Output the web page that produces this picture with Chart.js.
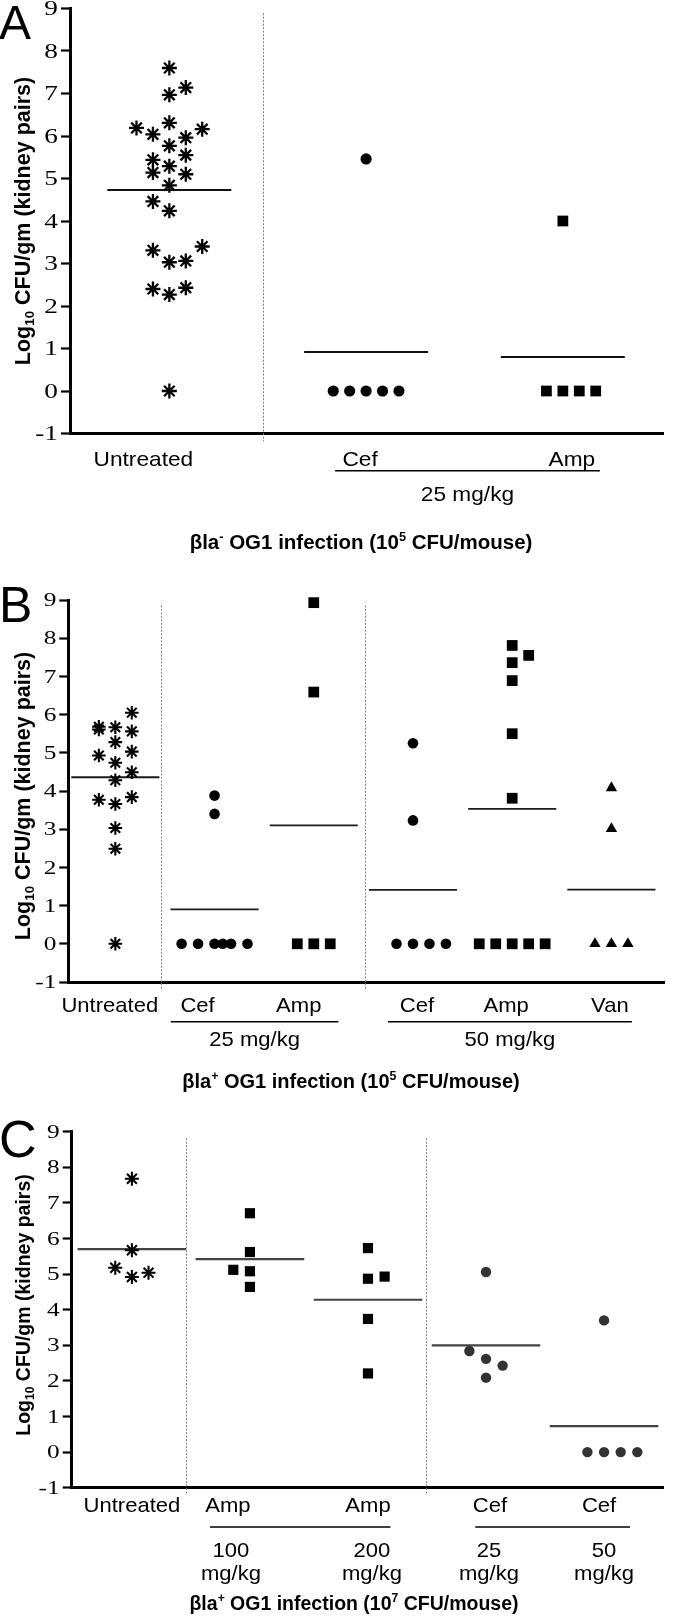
<!DOCTYPE html>
<html><head><meta charset="utf-8">
<script src="https://cdn.jsdelivr.net/npm/chart.js@4.4.0/dist/chart.umd.min.js"></script>
<style>
html,body{margin:0;padding:0;background:#fff;}
body{width:673px;height:1619px;position:relative;overflow:hidden;}
canvas{position:absolute;left:0;}
</style></head><body>
<canvas id="cA"></canvas><canvas id="cB"></canvas><canvas id="cC"></canvas>
<script>
// ================= DATA =================
const yTickValues = [-1, 0, 1, 2, 3, 4, 5, 6, 7, 8, 9];
const yTitle = [{t:'Log'},{t:'10',sub:1},{t:' CFU/gm (kidney pairs)'}];

// ---- Panel A ----
const catsA = ['Untreated', 'Cef', 'Amp'];
const doseA = ['25 mg/kg'];
const untreatedA    = [7.60,7.14,6.97,6.19,6.04,6.31,6.16,5.96,5.77,5.55,5.44,5.29,5.14,5.10,4.84,4.46,4.24,3.40,3.31,3.03,3.06,2.40,2.27,2.43,0];
const untreatedAcol = [0,1,0,-2,-1,0,2,1,0,1,-1,0,-1,1,0,-1,0,2,-1,0,1,-1,0,1,0];
const cefA    = [5.46,0,0,0,0,0];
const cefAcol = [0,-2,-1,0,1,2];
const ampA    = [4.00,0,0,0,0];
const ampAcol = [0,-1,0,1,2];
const meanA = [4.73, 0.92, 0.80];
const titleA = [{t:'βla'},{t:'-',sup:1},{t:' OG1 infection (10'},{t:'5',sup:1},{t:' CFU/mouse)'}];

// ---- Panel B ----
const catsB = ['Untreated', 'Cef', 'Amp', 'Cef', 'Amp', 'Van'];
const doseB = ['25 mg/kg', '50 mg/kg'];
const untreatedB    = [5.68,5.61,5.67,6.05,5.56,5.28,4.93,5.03,4.74,4.49,4.28,3.77,3.66,3.84,3.03,2.49,0];
const untreatedBcol = [-1,-1,0,1,1,0,-1,1,0,1,0,-1,0,1,0,0,0];
const cef25B    = [3.88,3.40,0,0,0,0,0,0];
const cef25Bcol = [0,0,-2,-1,0,0.5,1,2];
const amp25B    = [8.93,6.59,0,0,0];
const amp25Bcol = [0,0,-1,0,1];
const cef50B    = [5.25,3.23,0,0,0,0];
const cef50Bcol = [0,0,-1,0,1,2];
const amp50B    = [7.81,7.55,7.36,6.89,5.50,3.81,0,0,0,0,0];
const amp50Bcol = [0,1,0,0,0,0,-2,-1,0,1,2];
const van50B    = [4.08,3.01,0,0,0];
const van50Bcol = [0,0,-1,0,1];
const meanB = [4.36, 0.90, 3.10, 1.41, 3.53, 1.42];
const titleB = [{t:'βla'},{t:'+',sup:1},{t:' OG1 infection (10'},{t:'5',sup:1},{t:' CFU/mouse)'}];

// ---- Panel C ----
const catsC = ['Untreated', 'Amp', 'Amp', 'Cef', 'Cef'];
const doseC = ['100', '200', '25', '50'];
const doseUnitC = 'mg/kg';
const untreatedC    = [7.68,5.67,5.18,4.92,5.04];
const untreatedCcol = [0,0,-1,0,1];
const amp100C    = [6.71,5.62,5.12,5.08,4.64];
const amp100Ccol = [0,0,-1,0,0];
const amp200C    = [5.73,4.87,4.93,3.74,2.21];
const amp200Ccol = [0,0,1,0,0];
const cef25C    = [5.06,2.84,2.62,2.43,2.09];
const cef25Ccol = [0,-1,0,1,0];
const cef50C    = [3.70,0,0,0,0];
const cef50Ccol = [0,-1,0,1,2];
const meanC = [5.70, 5.42, 4.28, 3.00, 0.73];
const titleC = [{t:'βla'},{t:'+',sup:1},{t:' OG1 infection (10'},{t:'7',sup:1},{t:' CFU/mouse)'}];

// ================= STYLE / LAYOUT =================
const SANS = '"Liberation Sans", Arial, Helvetica, sans-serif';
const SERIF = '"Liberation Serif", "Times New Roman", serif';

function drawRich(ctx, segs, cx, cy, size, weight) {
  const parts = segs.map(s => {
    const fs = (s.sup || s.sub) ? size * 0.62 : size;
    ctx.font = `${weight} ${fs}px ${SANS}`;
    return {s, fs, w: ctx.measureText(s.t).width};
  });
  const total = parts.reduce((a, p) => a + p.w, 0);
  let x = cx - total / 2;
  const base = cy + size * 0.36;
  ctx.textAlign = 'left';
  ctx.textBaseline = 'alphabetic';
  parts.forEach(p => {
    ctx.font = `${weight} ${p.fs}px ${SANS}`;
    const dy = p.s.sup ? -size * 0.4 : (p.s.sub ? size * 0.2 : 0);
    ctx.fillText(p.s.t, x, base + dy);
    x += p.w;
  });
}

function stretchedText(ctx, txt, x, y, sx, align) {
  ctx.save();
  ctx.translate(x, y);
  ctx.scale(sx, 1);
  ctx.textAlign = align;
  ctx.fillText(txt, 0, 0);
  ctx.restore();
}

function decor(P) {
  return {
    id: 'decor' + P.letter,
    beforeDatasetsDraw(chart) {
      const {ctx, chartArea, scales: {x, y}} = chart;
      ctx.save();
      ctx.strokeStyle = '#808080';
      ctx.lineWidth = 1;
      ctx.setLineDash([2, 1.5]);
      P.seps.forEach(s => {
        const px = Math.round(x.getPixelForValue(s)) + 0.5;
        ctx.beginPath();
        ctx.moveTo(px, y.getPixelForValue(P.sepTop));
        ctx.lineTo(px, chartArea.bottom + P.sepExt);
        ctx.stroke();
      });
      ctx.restore();
    },
    afterDraw(chart) {
      const {ctx, chartArea, scales: {x, y}} = chart;
      const T = P.top;
      ctx.save();
      ctx.fillStyle = '#000';
      // y tick labels (serif, slightly wide as in the source figure)
      ctx.font = `${P.tickSize}px ${SERIF}`;
      ctx.textBaseline = 'middle';
      yTickValues.forEach(v => {
        stretchedText(ctx, String(v), chartArea.left - 12, y.getPixelForValue(v) + 1, P.tickStretch, 'right');
      });
      // panel letter
      ctx.font = `${P.letterSize}px ${SANS}`;
      ctx.textAlign = 'left';
      ctx.textBaseline = 'alphabetic';
      ctx.fillText(P.letter, P.letterX, P.letterBase - T);
      // y title
      ctx.save();
      ctx.translate(P.yTitleX, P.yTitleY - T);
      ctx.rotate(-Math.PI / 2);
      drawRich(ctx, yTitle, 0, 0, P.yTitleSize, 'bold');
      ctx.restore();
      // category labels
      ctx.font = `${P.labelSize}px ${SANS}`;
      ctx.textBaseline = 'middle';
      P.cats.forEach((c, i) => {
        stretchedText(ctx, c, x.getPixelForValue(i + 1) + P.labelDx[i], P.labelY - T, P.labelStretch, 'center');
      });
      // underlines + dose labels
      ctx.strokeStyle = '#000';
      ctx.lineWidth = 1.6;
      P.underlines.forEach((u, k) => {
        const x1 = x.getPixelForValue(u.from) + u.l;
        const x2 = x.getPixelForValue(u.to) + u.r;
        ctx.beginPath();
        ctx.moveTo(x1, P.underY - T);
        ctx.lineTo(x2, P.underY - T);
        ctx.stroke();
        if (P.dose) {
          stretchedText(ctx, P.dose[k], (x1 + x2) / 2, P.doseY - T, P.labelStretch, 'center');
        }
      });
      if (P.doseCols) {
        P.doseCols.forEach((d, k) => {
          const px = x.getPixelForValue(k + 2) + P.doseColDx[k];
          stretchedText(ctx, d, px, P.doseY - T, P.labelStretch, 'center');
          stretchedText(ctx, P.doseUnit, px, P.doseY2 - T, P.labelStretch, 'center');
        });
      }
      // bottom title
      drawRich(ctx, P.title, P.titleX, P.titleY - T, P.titleSize, 'bold');
      ctx.restore();
    }
  };
}

function buildPanel(id, P) {
  const cv = document.getElementById(id);
  cv.width = 673; cv.height = P.height;
  cv.style.width = '673px'; cv.style.height = P.height + 'px';
  cv.style.top = P.top + 'px';
  const pts = [], means = [];
  P.groups.forEach((g, i) => {
    const cx = i + 1;
    const m = P.markers[g.shape];
    pts.push({
      type: 'scatter',
      data: g.values.map((v, k) => ({x: cx + g.cols[k] * P.colW, y: v})),
      pointStyle: g.shape,
      pointRadius: m.r,
      pointBorderWidth: m.bw,
      pointBackgroundColor: m.color,
      pointBorderColor: m.color,
      clip: false
    });
    means.push({
      type: 'scatter',
      showLine: true,
      data: [{x: cx - P.meanHalf, y: P.means[i]}, {x: cx + P.meanHalf, y: P.means[i]}],
      borderColor: P.meanColor,
      borderWidth: P.meanWidth,
      pointRadius: 0
    });
  });
  new Chart(cv, {
    type: 'scatter',
    data: {datasets: pts.concat(means)},
    options: {
      responsive: false,
      animation: false,
      events: [],
      layout: {padding: P.pad},
      plugins: {legend: {display: false}, tooltip: {enabled: false}},
      scales: {
        x: {
          type: 'linear', min: P.xMin, max: P.xMax,
          grid: {display: false},
          ticks: {display: false},
          border: {display: true, color: '#000', width: 3},
          afterFit(s) { s.height = 0; }
        },
        y: {
          type: 'linear', min: -1, max: 9,
          afterBuildTicks(s) { s.ticks = yTickValues.map(v => ({value: v})); },
          afterFit(s) { s.width = 60; },
          grid: {display: true, drawOnChartArea: false, drawTicks: true, tickLength: 9, tickWidth: 2.2, tickColor: '#000', color: '#000'},
          border: {display: true, color: '#000', width: 3},
          ticks: {display: false}
        }
      }
    },
    plugins: [decor(P)]
  });
}

buildPanel('cA', {
  letter: 'A', letterX: -1, letterBase: 39, letterSize: 48,
  top: -4, height: 564,
  pad: {top: 12.5, bottom: 126.5, left: 10, right: 0},
  xMin: 0.495, xMax: 3.51, colW: 0.0835, meanHalf: 0.315,
  meanColor: '#111', meanWidth: 2,
  seps: [1.475], sepTop: 8.89, sepExt: 8,
  tickSize: 21, tickStretch: 1.3,
  yTitleX: 22, yTitleY: 221, yTitleSize: 21.5,
  cats: catsA, labelY: 460.5, labelDx: [-26, -6, 9], labelSize: 21, labelStretch: 1.08,
  underY: 470.7, underlines: [{from: 2, to: 3, l: -31, r: 37}],
  dose: doseA, doseY: 495,
  title: titleA, titleX: 361, titleY: 542, titleSize: 20.5,
  markers: {
    star: {r: 7.5, bw: 2.3, color: '#000'},
    circle: {r: 5.6, bw: 0, color: '#000'},
    rect: {r: 7.6, bw: 0, color: '#000'}
  },
  means: meanA,
  groups: [
    {values: untreatedA, cols: untreatedAcol, shape: 'star'},
    {values: cefA, cols: cefAcol, shape: 'circle'},
    {values: ampA, cols: ampAcol, shape: 'rect'}
  ]
});

buildPanel('cB', {
  letter: 'B', letterX: -1, letterBase: 622, letterSize: 50,
  top: 560, height: 540,
  pad: {top: 40, bottom: 118, left: 8.3, right: 0},
  xMin: 0.526, xMax: 6.531, colW: 0.166, meanHalf: 0.444,
  meanColor: '#1a1a1a', meanWidth: 1.8,
  seps: [1.457, 3.517], sepTop: 8.86, sepExt: 8,
  tickSize: 19.5, tickStretch: 1.3,
  yTitleX: 22, yTitleY: 796, yTitleSize: 21.5,
  cats: catsB, labelY: 1006.7, labelDx: [-5.5, -17, -15, 4, -6, -1.5], labelSize: 21, labelStretch: 1.05,
  underY: 1021.7, underlines: [{from: 2, to: 3, l: -43.7, r: 24.6}, {from: 4, to: 6, l: -25, r: 20.5}],
  dose: doseB, doseY: 1040,
  title: titleB, titleX: 351, titleY: 1081, titleSize: 20,
  markers: {
    star: {r: 6.8, bw: 2.1, color: '#000'},
    circle: {r: 5.3, bw: 0, color: '#000'},
    rect: {r: 7.6, bw: 0, color: '#000'},
    triangle: {r: 6.6, bw: 0, color: '#000'}
  },
  means: meanB,
  groups: [
    {values: untreatedB, cols: untreatedBcol, shape: 'star'},
    {values: cef25B, cols: cef25Bcol, shape: 'circle'},
    {values: amp25B, cols: amp25Bcol, shape: 'rect'},
    {values: cef50B, cols: cef50Bcol, shape: 'circle'},
    {values: amp50B, cols: amp50Bcol, shape: 'rect'},
    {values: van50B, cols: van50Bcol, shape: 'triangle'}
  ]
});

buildPanel('cC', {
  letter: 'C', letterX: -1, letterBase: 1157, letterSize: 52,
  top: 1100, height: 519,
  pad: {top: 31.7, bottom: 131.3, left: 11.7, right: 8},
  xMin: 0.49, xMax: 5.507, colW: 0.141, meanHalf: 0.46,
  meanColor: '#444', meanWidth: 2.2,
  seps: [1.456, 3.494], sepTop: 8.82, sepExt: 7,
  tickSize: 19.5, tickStretch: 1.3,
  yTitleX: 23, yTitleY: 1305, yTitleSize: 19.5,
  cats: catsC, labelY: 1506.7, labelDx: [0, -22, 0, 4, -5], labelSize: 21, labelStretch: 1.05,
  underY: 1527, underlines: [{from: 2, to: 3, l: -40, r: 22.5}, {from: 4, to: 5, l: -10.7, r: 26}],
  doseCols: doseC, doseColDx: [-19, 4, 3, 0], doseUnit: doseUnitC, doseY: 1551.7, doseY2: 1574,
  title: titleC, titleX: 354, titleY: 1603, titleSize: 19.5,
  markers: {
    star: {r: 7, bw: 2.1, color: '#000'},
    circle: {r: 5.2, bw: 0, color: '#333'},
    rect: {r: 7.2, bw: 0, color: '#000'}
  },
  means: meanC,
  groups: [
    {values: untreatedC, cols: untreatedCcol, shape: 'star'},
    {values: amp100C, cols: amp100Ccol, shape: 'rect'},
    {values: amp200C, cols: amp200Ccol, shape: 'rect'},
    {values: cef25C, cols: cef25Ccol, shape: 'circle'},
    {values: cef50C, cols: cef50Ccol, shape: 'circle'}
  ]
});
</script>
</body></html>
